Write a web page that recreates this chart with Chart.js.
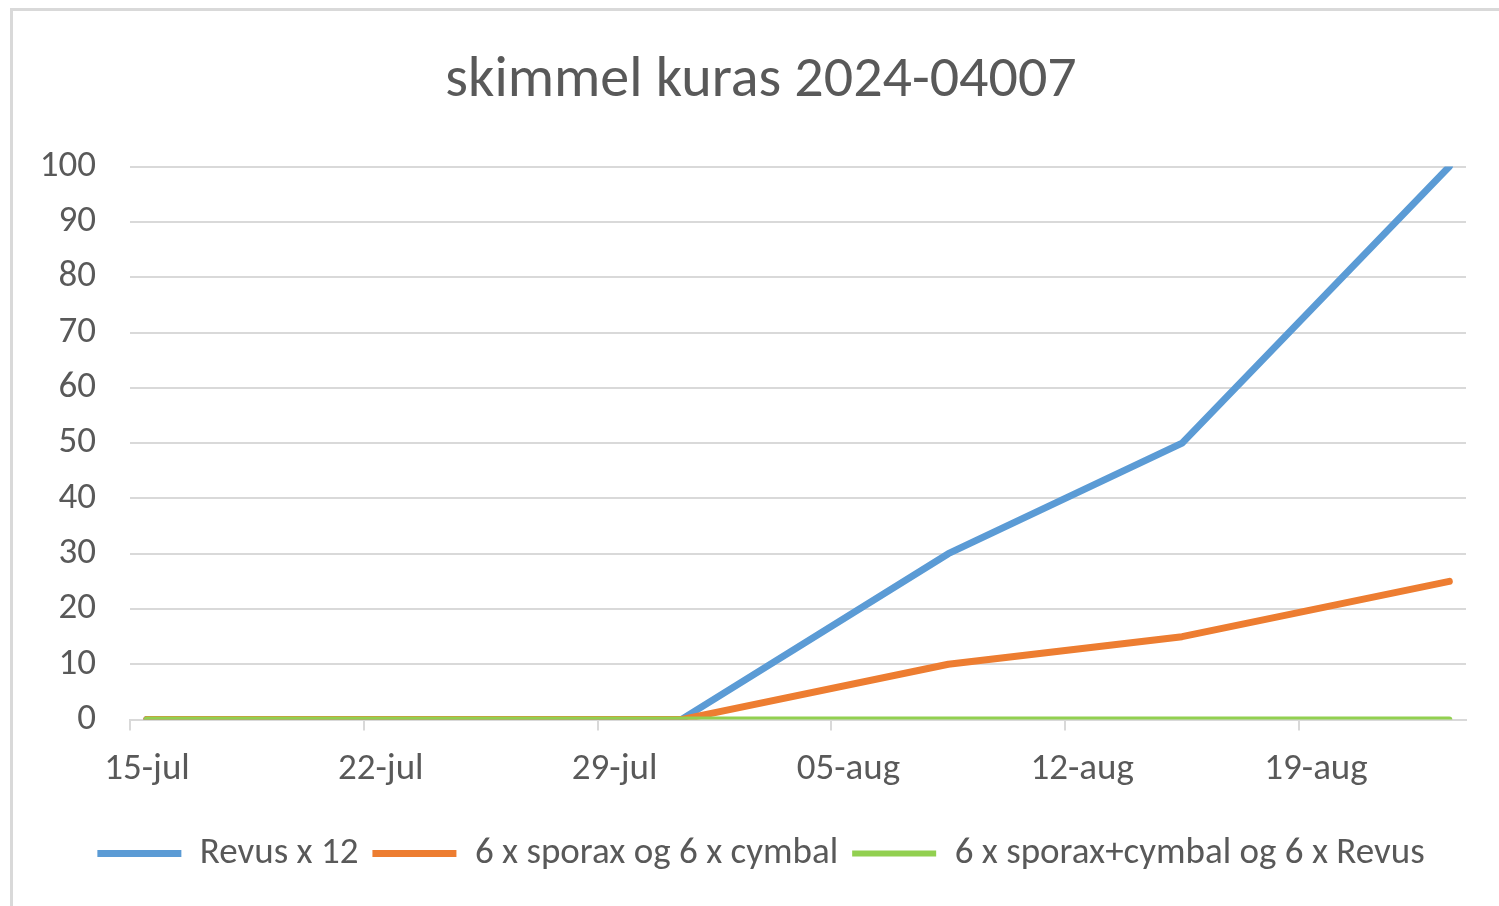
<!DOCTYPE html>
<html>
<head>
<meta charset="utf-8">
<script src="https://cdn.jsdelivr.net/npm/chart.js@4.4.1/dist/chart.umd.min.js"></script>
<style>
    html, body { margin: 0; padding: 0; background: #fff; overflow: hidden; }
    #frame {
        position: absolute; left: 10px; top: 8px;
        border-left: 3px solid #d9d9d9; border-top: 3px solid #d9d9d9;
        width: 1496px; height: 895px;
    }
    canvas { display: block; }
</style>
</head>
<body>
<div id="frame"><canvas id="chart" width="1496" height="895"></canvas></div>
<script>
const chartTitle = "skimmel kuras 2024-04007";

// observation dates and the weekly tick labels
const startDate = "2024-07-15";
const dates = ["2024-07-15", "2024-07-31", "2024-08-08", "2024-08-15", "2024-08-23"];
const tickLabels = ["15-jul", "22-jul", "29-jul", "05-aug", "12-aug", "19-aug"];

const seriesNames = ["Revus x 12", "6 x sporax og 6 x cymbal", "6 x sporax+cymbal og 6 x Revus"];
const revus = [0, 0, 30, 50, 100];
const sporaxCymbal = [0, 0, 10, 15, 25];
const sporaxRevus = [0, 0, 0, 0, 0];

const colors = ["#5b9bd5", "#ed7d31", "#92d050"];
const widths = [7, 7, 6];
const FONT = "Calibri, Carlito, Lato, sans-serif";
const TEXT = "#595959";
const GRID = "#d9d9d9";

const dayMs = 24 * 3600 * 1000;
const dayOf = d => (new Date(d) - new Date(startDate)) / dayMs + 0.5; // centre of the day slot

function points(values) {
    return values.map((v, i) => ({ x: dayOf(dates[i]), y: v }));
}

const seriesValues = [revus, sporaxCymbal, sporaxRevus];

const ctx = document.getElementById("chart");
new Chart(ctx, {
    type: "line",
    data: {
        datasets: seriesValues.map((vals, i) => ({
            label: seriesNames[i],
            data: points(vals),
            borderColor: colors[i],
            backgroundColor: colors[i],
            borderWidth: widths[i],
            borderCapStyle: "round",
            borderJoinStyle: "round",
            pointRadius: 0,
            tension: 0,
            order: 2 - i   // green on top like the original
        }))
    },
    options: {
        responsive: false,
        animation: false,
        layout: { padding: { left: 0, right: 0, top: 0, bottom: 24 } },
        plugins: {
            tooltip: { enabled: false },
            title: {
                display: true,
                text: chartTitle,
                color: TEXT,
                font: { family: FONT, size: 58, weight: "normal" },
                padding: { top: 36, bottom: 50 }
            },
            legend: {
                position: "bottom",
                labels: {
                    sort: (a, b) => a.datasetIndex - b.datasetIndex,
                    usePointStyle: true,
                    pointStyle: "line",
                    pointStyleWidth: 84,
                    boxHeight: 36,
                    color: TEXT,
                    font: { family: FONT, size: 37 },
                    padding: 14
                }
            }
        },
        scales: {
            x: {
                type: "linear",
                min: 0,
                max: 40,
                afterBuildTicks: s => { s.ticks = tickLabels.map((_, i) => ({ value: i * 7 })); },
                afterFit: s => { s.height += 12; },
                ticks: {
                    callback: (v, i) => tickLabels[i],
                    color: TEXT,
                    font: { family: FONT, size: 37 },
                    labelOffset: 17,
                    padding: 17,
                    maxRotation: 0,
                    autoSkip: false
                },
                grid: { drawOnChartArea: false, drawTicks: true, tickLength: 11, color: GRID, lineWidth: 2 },
                border: { display: true, color: GRID, width: 2 }
            },
            y: {
                min: 0,
                max: 100,
                afterFit: s => { s.width = 117; },
                ticks: {
                    stepSize: 10,
                    color: TEXT,
                    font: { family: FONT, size: 37 },
                    padding: 34
                },
                grid: { color: GRID, lineWidth: 2, drawTicks: false },
                border: { display: false }
            },
            // empty right axis, only keeps the plot clear of the right edge
            yRight: {
                position: "right",
                min: 0,
                max: 100,
                afterFit: s => { s.width = 43; },
                ticks: { display: false },
                grid: { display: false },
                border: { display: false }
            }
        }
    }
});
</script>
</body>
</html>
